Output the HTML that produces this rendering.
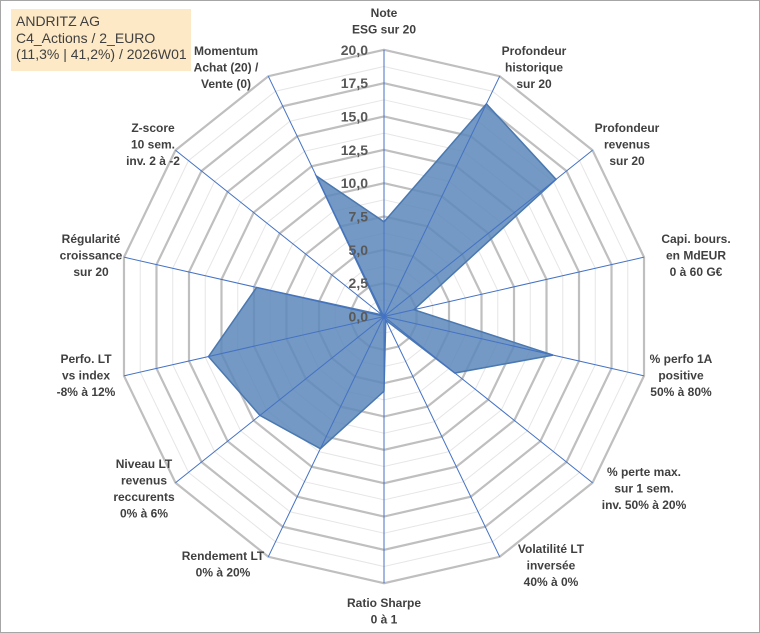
<!DOCTYPE html>
<html><head><meta charset="utf-8"><style>
html,body{margin:0;padding:0;background:#fff}
#wrap{position:relative;width:758px;height:631px;border:1px solid #a6a6a6;overflow:hidden}
svg{position:absolute;left:0;top:0}
#title{position:absolute;left:10px;top:8px;width:180px;height:62px;background:#fde9c6;font-family:"Liberation Sans",sans-serif;font-size:14px;line-height:16.5px;color:#404040;padding:4px 0 0 5px;box-sizing:border-box}
</style></head><body>
<div id="wrap">
<svg id="chart" width="758" height="631"></svg>
<div id="title">ANDRITZ AG<br>C4_Actions / 2_EURO<br>(11,3% | 41,2%) / 2026W01</div>
</div>
<script>
const categories=["Note ESG sur 20","Profondeur historique sur 20","Profondeur revenus sur 20","Capi. bours. en MdEUR 0 à 60 G€","% perfo 1A positive 50% à 80%","% perte max. sur 1 sem. inv. 50% à 20%","Volatilité LT inversée 40% à 0%","Ratio Sharpe 0 à 1","Rendement LT 0% à 20%","Niveau LT revenus reccurents 0% à 6%","Perfo. LT vs index -8% à 12%","Régularité croissance sur 20","Z-score 10 sem. inv. 2 à -2","Momentum Achat (20) / Vente (0)"];
const values=[7.1,17.7,16.5,2.3,13.0,6.8,0.3,5.6,11.0,11.9,13.5,9.8,0.2,11.7];
const tickValues=[0,2.5,5,7.5,10,12.5,15,17.5,20];
const tickLabels=["0,0","2,5","5,0","7,5","10,0","12,5","15,0","17,5","20,0"];
const labelLines=[["Note","ESG sur 20"],["Profondeur","historique","sur 20"],["Profondeur","revenus","sur 20"],["Capi. bours.","en MdEUR","0 à 60 G€"],["% perfo 1A","positive","50% à 80%"],["% perte max.","sur 1 sem.","inv. 50% à 20%"],["Volatilité LT","inversée","40% à 0%"],["Ratio Sharpe","0 à 1"],["Rendement LT","0% à 20%"],["Niveau LT","revenus","reccurents","0% à 6%"],["Perfo. LT","vs index","-8% à 12%"],["Régularité","croissance","sur 20"],["Z-score","10 sem.","inv. 2 à -2"],["Momentum","Achat (20) /","Vente (0)"]];
const NS="http://www.w3.org/2000/svg";
const svg=document.getElementById('chart');
const cx=383,cy=315.5,R=266.7,maxV=20,N=categories.length;
function ang(i){return i*2*Math.PI/N;}
function pt(i,v){const r=v/maxV*R;return [cx+r*Math.sin(ang(i)),cy-r*Math.cos(ang(i))];}
function mk(tag,attrs){const e=document.createElementNS(NS,tag);for(const k in attrs)e.setAttribute(k,attrs[k]);svg.appendChild(e);return e;}
// minor rings
for(let t=1.25;t<maxV;t+=2.5){
 const p=mk('polygon',{points:categories.map((c,i)=>pt(i,t).join(',')).join(' '),fill:'none',stroke:'#e6e6e6','stroke-width':1});
 
 
}
tickValues.forEach(t=>{if(t===0)return;
 const p=mk('polygon',{points:categories.map((c,i)=>pt(i,t).join(',')).join(' '),fill:'none',stroke:'#bfbfbf','stroke-width':2.2});
 
 
});
// series
const poly=mk('polygon',{points:values.map((v,i)=>pt(i,v).join(',')).join(' '),fill:'#5b87ba','fill-opacity':0.85,stroke:'#4a78b0','stroke-width':1.5});


// axes
categories.forEach((c,i)=>{const p=pt(i,maxV);
 const l=mk('line',{x1:cx,y1:cy,x2:p[0],y2:p[1],stroke:'#4472c4','stroke-width':1});
 
 
});
// ticks
tickValues.forEach((t,k)=>{const y=cy-t/maxV*R;
 const e=mk('text',{x:367,y:y+5,'text-anchor':'end','font-family':'Liberation Sans, sans-serif','font-size':14,'font-weight':'bold',fill:'#595959'});
 e.textContent=tickLabels[k];
 
 
});
// category labels
const lpos=[[383,16],[533,54],[626,131],[695,242],[680,362],[643,475],[550,552],[383,606],[222,559],[143,467],[85,362],[90,242],[152,131],[225,54]];
labelLines.forEach((lines,i)=>{
 const t=mk('text',{x:lpos[i][0],y:lpos[i][1],'text-anchor':'middle','font-family':'Liberation Sans, sans-serif','font-size':12,'font-weight':'bold',fill:'#404040'});
 
 
 lines.forEach((s,j)=>{const ts=document.createElementNS(NS,'tspan');ts.setAttribute('x',lpos[i][0]);ts.setAttribute('dy',j?16.5:0);ts.textContent=s;t.appendChild(ts);});
});
</script>
</body></html>
